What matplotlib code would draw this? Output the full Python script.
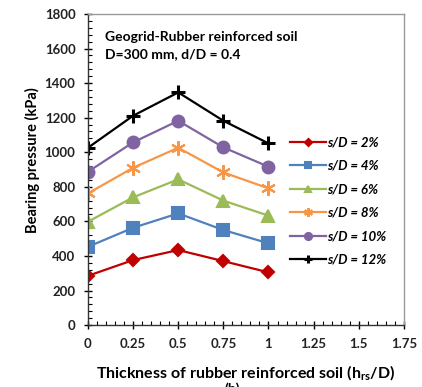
import matplotlib
matplotlib.use("Agg")
import matplotlib.pyplot as plt
from matplotlib.ticker import MultipleLocator

x = [0, 0.25, 0.5, 0.75, 1.0]
labels = ["s/D = 2%", "s/D = 4%", "s/D = 6%", "s/D = 8%", "s/D = 10%", "s/D = 12%"]
s2 = [285, 376, 434, 370, 305]
s4 = [453, 563, 646, 550, 473]
s6 = [598, 739, 843, 720, 633]
s8 = [762, 910, 1026, 883, 791]
s10 = [887, 1057, 1182, 1028, 916]
s12 = [1026, 1211, 1346, 1182, 1051]
series = [s2, s4, s6, s8, s10, s12]
colors = ["#C00000", "#4F81BD", "#9BBB59", "#F79646", "#8064A2", "#000000"]
markers = ["D", "s", "^", (6, 2, 0), "o", "P"]
msizes = [6, 8, 8, 10.5, 8.5, 10]

plt.rcParams['font.family'] = ['Lato', 'DejaVu Sans']

fig = plt.figure(figsize=(4.22, 3.87), dpi=100)
ax = fig.add_axes([0.2085, 0.160, 0.7485, 0.804])

for ys, c, m, ms, lab in zip(series, colors, markers, msizes, labels):
    if m == "P":
        ax.plot(x, ys, color=c, lw=1.6, marker="+", ms=ms, mew=2.2, label=lab)
    else:
        ax.plot(x, ys, color=c, lw=1.6, marker=m, ms=ms, mec=c, mfc=c, mew=1.5, label=lab)

ax.set_xlim(0, 1.75)
ax.set_ylim(0, 1800)
ax.xaxis.set_minor_locator(MultipleLocator(0.05))
ax.yaxis.set_major_locator(MultipleLocator(200))
ax.yaxis.set_minor_locator(MultipleLocator(40))
ax.set_xticks([0, 0.25, 0.5, 0.75, 1, 1.25, 1.5, 1.75])
ax.set_xticklabels(["0", "0.25", "0.5", "0.75", "1", "1.25", "1.5", "1.75"])
ax.tick_params(which='major', direction='inout', length=6, width=1, labelsize=9.5, pad=6)
ax.tick_params(which='minor', direction='in', length=3, width=0.8)
for lbl in ax.get_xticklabels() + ax.get_yticklabels():
    lbl.set_fontweight('bold')
    lbl.set_color('#222222')

ax.spines['left'].set_color('#333333')
ax.spines['bottom'].set_color('#333333')
ax.spines['top'].set_color('#999999')
ax.spines['right'].set_color('#999999')
for sp in ax.spines.values():
    sp.set_linewidth(1.0)

ax.set_ylabel("Bearing pressure (kPa)", fontsize=10.5, fontweight='bold')
ax.yaxis.set_label_coords(-0.153, 0.53)
ax.set_xlabel(r"Thickness of rubber reinforced soil (h$_{\mathregular{rs}}$/D)", fontsize=11.5, fontweight='bold', labelpad=10)

ax.text(0.055, 0.945, "Geogrid-Rubber reinforced soil\nD=300 mm, d/D = 0.4", transform=ax.transAxes,
        fontsize=10, fontweight='bold', va='top', ha='left', linespacing=1.5)

leg = ax.legend(loc='upper left', bbox_to_anchor=(285 / 422, 1 - 131 / 387), bbox_transform=fig.transFigure,
                frameon=False, fontsize=9.5, handlelength=2.7, handletextpad=0.1, labelspacing=0.87,
                markerscale=0.6, borderaxespad=0)
for t in leg.get_texts():
    t.set_fontstyle('italic')
    t.set_fontweight('bold')

fig.text(0.55, -0.005, "(b)", fontsize=10, fontweight='bold', ha='center', va='center')

fig.savefig("out.png", dpi=100)
